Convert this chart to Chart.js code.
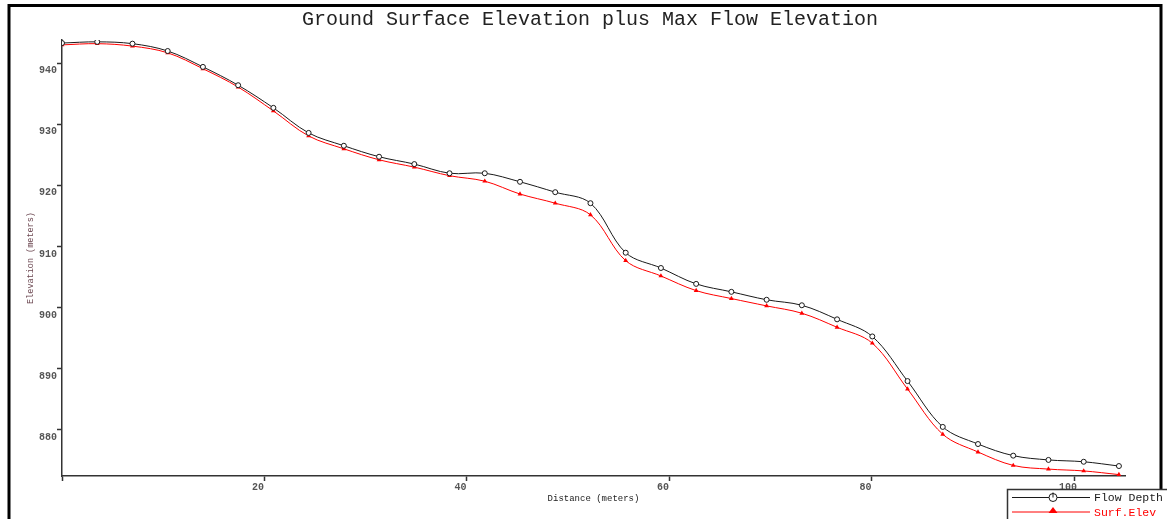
<!DOCTYPE html>
<html>
<head>
<meta charset="utf-8">
<title>Ground Surface Elevation plus Max Flow Elevation</title>
<script src="https://cdn.jsdelivr.net/npm/chart.js@4.4.1/dist/chart.umd.min.js"></script>
<style>
  html, body { margin: 0; padding: 0; background: #fff; }
  #wrap { width: 1167px; height: 519px; }
</style>
</head>
<body>
<div id="wrap"><canvas id="elevChart" width="1167" height="519"></canvas></div>
<script>
// Station distances along the profile (meters)
const distances = [0, 3.48, 6.96, 10.44, 13.92, 17.4, 20.88, 24.36, 27.84, 31.32, 34.8, 38.28,
    41.76, 45.24, 48.72, 52.2, 55.68, 59.16, 62.64, 66.12, 69.6, 73.08, 76.56, 80.04, 83.52,
    87, 90.48, 93.96, 97.44, 100.92, 104.4];

// Max flow elevation (ground + flow depth)
const flowDepth = [943.3, 943.5, 943.2, 942.0, 939.4, 936.4, 932.7, 928.6, 926.5, 924.7, 923.5,
    922.0, 922.0, 920.6, 918.9, 917.1, 909.0, 906.5, 903.9, 902.6, 901.3, 900.4, 898.1, 895.3,
    888.0, 880.5, 877.7, 875.8, 875.1, 874.8, 874.1];

// Ground surface elevation
const surfElev = [943.0, 943.2, 942.8, 941.7, 939.1, 936.1, 932.2, 928.1, 926.0, 924.2, 923.0,
    921.6, 920.7, 918.6, 917.1, 915.2, 907.7, 905.2, 902.8, 901.5, 900.3, 899.1, 896.8, 894.2,
    886.7, 879.3, 876.4, 874.2, 873.6, 873.3, 872.7];

const seriesNames = ['Flow Depth', 'Surf.Elev'];
const chartTitle = 'Ground Surface Elevation plus Max Flow Elevation';
const xTickStep = 20;
const yTickStep = 10;

const toPoints = (vals) => vals.map((v, i) => ({ x: distances[i], y: v }));

// white page, title, outer frame and the boxed legend under the plot
const framePlugin = {
    id: 'framePlugin',
    beforeDraw(chart) {
        const c = chart.ctx;
        c.save();
        c.fillStyle = '#fff';
        c.fillRect(0, 0, chart.width, chart.height);
        c.restore();
    },
    afterDraw(chart) {
        const c = chart.ctx;
        c.save();
        c.fillStyle = '#222';
        c.font = '20px "Liberation Mono", monospace';
        c.textAlign = 'center';
        c.textBaseline = 'middle';
        c.fillText(chartTitle, 590, 20);

        c.strokeStyle = '#000';
        c.lineWidth = 3;
        c.beginPath();
        c.moveTo(9, 519);
        c.lineTo(9, 5.5);
        c.lineTo(1161, 5.5);
        c.lineTo(1161, 489);
        c.stroke();

        c.fillStyle = '#fff';
        c.fillRect(1007, 489, 160, 30);
        c.strokeStyle = '#333';
        c.lineWidth = 1.5;
        c.beginPath();
        c.moveTo(1007.5, 519);
        c.lineTo(1007.5, 489.5);
        c.lineTo(1167, 489.5);
        c.stroke();

        c.font = '11.5px "Liberation Mono", monospace';
        c.textAlign = 'left';
        c.textBaseline = 'middle';
        chart.data.datasets.forEach((ds, i) => {
            const y = 497.5 + i * 14.5;
            c.strokeStyle = ds.borderColor;
            c.lineWidth = 1;
            c.beginPath();
            c.moveTo(1012, y);
            c.lineTo(1090, y);
            c.stroke();
            if (i === 0) {
                c.fillStyle = '#fff';
                c.beginPath();
                c.arc(1053, y, 4, 0, Math.PI * 2);
                c.fill();
                c.stroke();
                c.beginPath();
                c.moveTo(1053, y - 5);
                c.lineTo(1053, y);
                c.stroke();
            } else {
                c.fillStyle = ds.borderColor;
                c.beginPath();
                c.moveTo(1053, y - 5);
                c.lineTo(1057.5, y + 1);
                c.lineTo(1048.5, y + 1);
                c.closePath();
                c.fill();
            }
            c.fillStyle = ds.borderColor;
            c.fillText(ds.label, 1094, y + 0.5);
        });
        c.restore();
    }
};

const ctxElev = document.getElementById('elevChart');
new Chart(ctxElev, {
    type: 'line',
    data: {
        datasets: [{
            label: seriesNames[0],
            data: toPoints(flowDepth),
            borderColor: '#1a1a1a',
            borderWidth: 1,
            pointStyle: 'circle',
            pointRadius: 2.5,
            pointBorderWidth: 1,
            pointBackgroundColor: '#fff',
            pointBorderColor: '#1a1a1a',
            tension: 0.35
        }, {
            label: seriesNames[1],
            data: toPoints(surfElev),
            borderColor: '#ff0000',
            borderWidth: 1,
            pointStyle: 'triangle',
            pointRadius: 2.8,
            pointBorderWidth: 0,
            pointBackgroundColor: '#ff0000',
            tension: 0.35
        }]
    },
    options: {
        responsive: false,
        animation: false,
        layout: { padding: { left: 0, right: 42, top: 40, bottom: 0 } },
        plugins: {
            legend: { display: false },
            tooltip: { enabled: false },
            title: { display: false }
        },
        scales: {
            x: {
                type: 'linear',
                min: 0,
                max: 105,
                afterFit: (scale) => { scale.height = 43; },
                afterBuildTicks: (scale) => {
                    scale.ticks = scale.ticks.filter(t => t.value % xTickStep === 0);
                },
                border: { display: true, color: '#333', width: 1.5 },
                grid: { display: true, drawOnChartArea: false, drawTicks: true, tickLength: 5, tickColor: '#333', tickWidth: 1.5 },
                ticks: {
                    stepSize: xTickStep,
                    padding: 0,
                    labelOffset: -6.5,
                    maxRotation: 0,
                    color: '#555',
                    font: { family: '"Liberation Mono", monospace', size: 10, weight: 'bold' },
                    callback: (v) => (v === 0 ? '' : v)
                },
                title: {
                    display: true,
                    text: 'Distance (meters)',
                    color: '#222',
                    font: { family: '"Liberation Mono", monospace', size: 9 },
                    padding: { top: 15, bottom: 15 }
                }
            },
            y: {
                type: 'linear',
                min: 872.47,
                max: 943.8,
                afterFit: (scale) => { scale.width = 62; },
                afterBuildTicks: (scale) => {
                    scale.ticks = scale.ticks.filter(t => t.value % yTickStep === 0);
                },
                border: { display: true, color: '#333', width: 1.5 },
                grid: { display: true, drawOnChartArea: false, drawTicks: true, tickLength: 5, tickColor: '#333', tickWidth: 1.5 },
                ticks: {
                    stepSize: yTickStep,
                    padding: 0,
                    labelOffset: 7.5,
                    color: '#555',
                    font: { family: '"Liberation Mono", monospace', size: 10, weight: 'bold' }
                },
                title: {
                    display: true,
                    text: 'Elevation (meters)',
                    color: '#6b4650',
                    font: { family: '"Liberation Mono", monospace', size: 8.5 },
                    padding: { top: 26, bottom: 26 }
                }
            }
        }
    },
    plugins: [framePlugin]
});
</script>
</body>
</html>
